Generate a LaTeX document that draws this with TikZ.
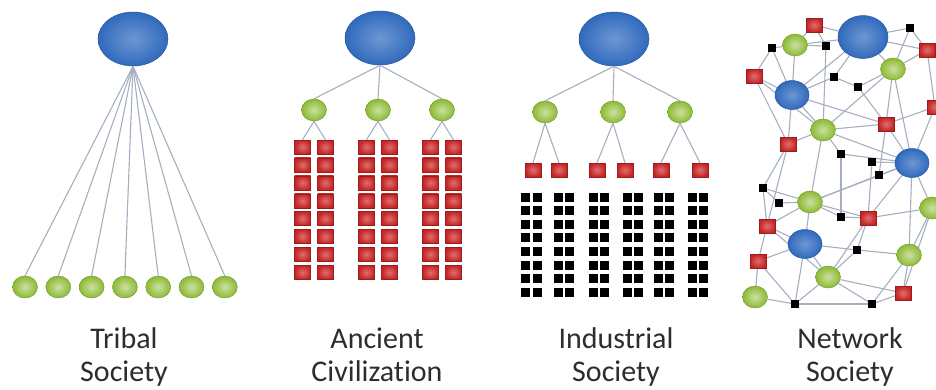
\documentclass[tikz,border=0pt]{standalone}
\usepackage{fontspec}
\setmainfont{Carlito}[Ligatures=NoCommon]
\usetikzlibrary{shapes.geometric,backgrounds}

\definecolor{hubblue}{RGB}{48,106,190}
\definecolor{hubedge}{RGB}{40,86,160}
\definecolor{leafgreen}{RGB}{140,186,50}
\definecolor{leafedge}{RGB}{110,150,40}
\definecolor{cellred}{RGB}{200,36,36}
\definecolor{celledge}{RGB}{150,30,30}
\definecolor{linkgray}{RGB}{165,175,192}
\definecolor{captext}{RGB}{45,45,45}

\tikzset{
  hub/.style={ellipse, draw=hubedge, line width=0.5pt, inner color=hubblue!70!white,
    outer color=hubblue, minimum width=70pt, minimum height=54pt, inner sep=0pt},
  smallhub/.style={hub, minimum width=34pt, minimum height=29pt},
  bighub/.style={hub, minimum width=50pt, minimum height=43pt},
  leaf/.style={ellipse, draw=leafedge, line width=0.4pt, inner color=leafgreen!45!white,
    outer color=leafgreen, minimum width=25pt, minimum height=22pt, inner sep=0pt},
  cell/.style={rectangle, draw=celledge, line width=0.4pt, inner color=cellred!65!white,
    outer color=cellred, minimum width=16pt, minimum height=14pt, inner sep=0pt},
  worker/.style={rectangle, fill=black, minimum size=9pt, inner sep=0pt},
  dot/.style={worker, minimum size=8pt},
  link/.style={draw=linkgray, line width=1.1pt},
  caption/.style={font=\fontsize{30}{33}\selectfont, text=captext, align=center,
    anchor=base, inner sep=0pt}
}

\begin{document}
\begin{tikzpicture}[x=1pt, y=-1pt]
  \useasboundingbox (0,0) rectangle (936,389);

  % tribal society
  \node[hub] (tribe) at (133,39) {};
  \foreach \i in {0,...,6} {
    \node[leaf] (t\i) at ({25+33.3*\i},287) {};
    \draw[link] (tribe.south) -- (t\i.north);
  }

  % ancient civilization
  \node[hub] (king) at (380,38) {};
  \foreach \x/\n in {314/a, 378/b, 442/c} {
    \node[leaf] (c\n) at (\x,110) {};
    \draw[link] (king.south) -- (c\n.north);
    \foreach \k in {0,...,7} {
      \node[cell] (c\n-l\k) at (\x-11.5,{147+17.9*\k}) {};
      \node[cell] (c\n-r\k) at (\x+11.5,{147+17.9*\k}) {};
    }
    \draw[link] (c\n.south) -- (c\n-l0.north);
    \draw[link] (c\n.south) -- (c\n-r0.north);
  }

  % industrial society
  \node[hub] (owner) at (614,39) {};
  \node[leaf] (m1) at (545,112) {};
  \node[leaf] (m2) at (613,112) {};
  \node[leaf] (m3) at (680,112) {};
  \foreach \m in {m1,m2,m3} \draw[link] (owner.south) -- (\m.north);
  \node[cell] (f1) at (533,170) {};
  \node[cell] (f2) at (559,170) {};
  \node[cell] (f3) at (597,170) {};
  \node[cell] (f4) at (625,170) {};
  \node[cell] (f5) at (661,170) {};
  \node[cell] (f6) at (700,170) {};
  \foreach \m/\f in {m1/f1, m1/f2, m2/f3, m2/f4, m3/f5, m3/f6}
    \draw[link] (\m.south) -- (\f.north);
  \foreach \x in {525,537,558,569,593,604,627,638,658,669,692,703}
    \foreach \k in {0,...,7}
      \node[worker] (w\x-\k) at (\x,{197+13.6*\k}) {};

  % network society
  \node[bighub] (b1) at (863,37) {};
  \node[smallhub] (b2) at (792,95) {};
  \node[smallhub] (b3) at (912,163) {};
  \node[smallhub] (b4) at (805,244) {};
  \node[leaf] (g1) at (795,45) {};
  \node[leaf] (g2) at (893,69) {};
  \node[leaf] (g3) at (823,130) {};
  \node[leaf] (g4) at (810,202) {};
  \node[leaf] (g5) at (932,208) {};
  \node[leaf] (g6) at (909,255) {};
  \node[leaf] (g7) at (828,277) {};
  \node[leaf] (g8) at (755,297) {};
  \node[cell] (r1) at (814,25) {};
  \node[cell] (r2) at (927,50) {};
  \node[cell] (r3) at (754,76) {};
  \node[cell] (r4) at (935,107) {};
  \node[cell] (r5) at (886,124) {};
  \node[cell] (r6) at (788,144) {};
  \node[cell] (r7) at (767,226) {};
  \node[cell] (r8) at (868,218) {};
  \node[cell] (r9) at (758,261) {};
  \node[cell] (r10) at (903,293) {};
  \node[dot] (k1) at (910,28) {};
  \node[dot] (k2) at (772,48) {};
  \node[dot] (k3) at (826,46) {};
  \node[dot] (k4) at (834,77) {};
  \node[dot] (k5) at (858,87) {};
  \node[dot] (k6) at (841,154) {};
  \node[dot] (k7) at (872,162) {};
  \node[dot] (k8) at (879,175) {};
  \node[dot] (k9) at (763,188) {};
  \node[dot] (k10) at (779,203) {};
  \node[dot] (k11) at (841,217) {};
  \node[dot] (k12) at (857,250) {};
  \node[dot] (k13) at (795,304) {};
  \node[dot] (k14) at (872,304) {};
  \begin{scope}[on background layer]
    \foreach \a/\b in {g1/k2, k2/r3, k2/b2, g1/b2, g1/r1, g1/k3, g1/b1, r1/b1, r1/k3,
        k3/g3, b1/k1, b1/r2, b1/g2, b1/k4, b1/b2, k1/r2, k1/g2, r2/g2, r2/r4,
        g2/k5, g2/r5, g2/b3, g2/g3, k4/k5, k5/r5, k4/b2, r3/b2, r3/g3, r3/r6,
        b2/r6, b2/g3, b2/r5, r6/g3, r6/k9, r6/r7, g3/r5, g3/b3, g3/g4, g3/k6,
        r5/r4, r5/b3, r5/k8, r4/b3, k6/k11, k6/b3, k7/b3, k8/b3, k8/g4, k7/r8,
        k9/g4, k9/k10, k9/r7, k10/g4, g4/b4, g4/r8, g4/k11, g4/r7, g4/b3,
        r7/b4, r7/r9, r7/g7, r9/g8, r9/k13, r9/b4, g8/k13, b4/g7, b4/k13,
        b4/k12, k11/r8, r8/g5, r8/b3, r8/k12, r8/g7, k12/g6, k12/g7, g5/b3,
        g5/g6, g5/r10, g6/r10, g6/k14, g6/b3, g7/k13, g7/k14, g7/r10, k13/k14,
        k14/r10}
      \draw[link] (\a) -- (\b);
  \end{scope}

  % captions
  \node[caption] (cap1) at (124,381) {Tribal\\Society};
  \node[caption] (cap2) at (377,381) {Ancient\\Civilization};
  \node[caption] (cap3) at (616,381) {Industrial\\Society};
  \node[caption] (cap4) at (850,381) {Network\\Society};
\end{tikzpicture}
\end{document}
